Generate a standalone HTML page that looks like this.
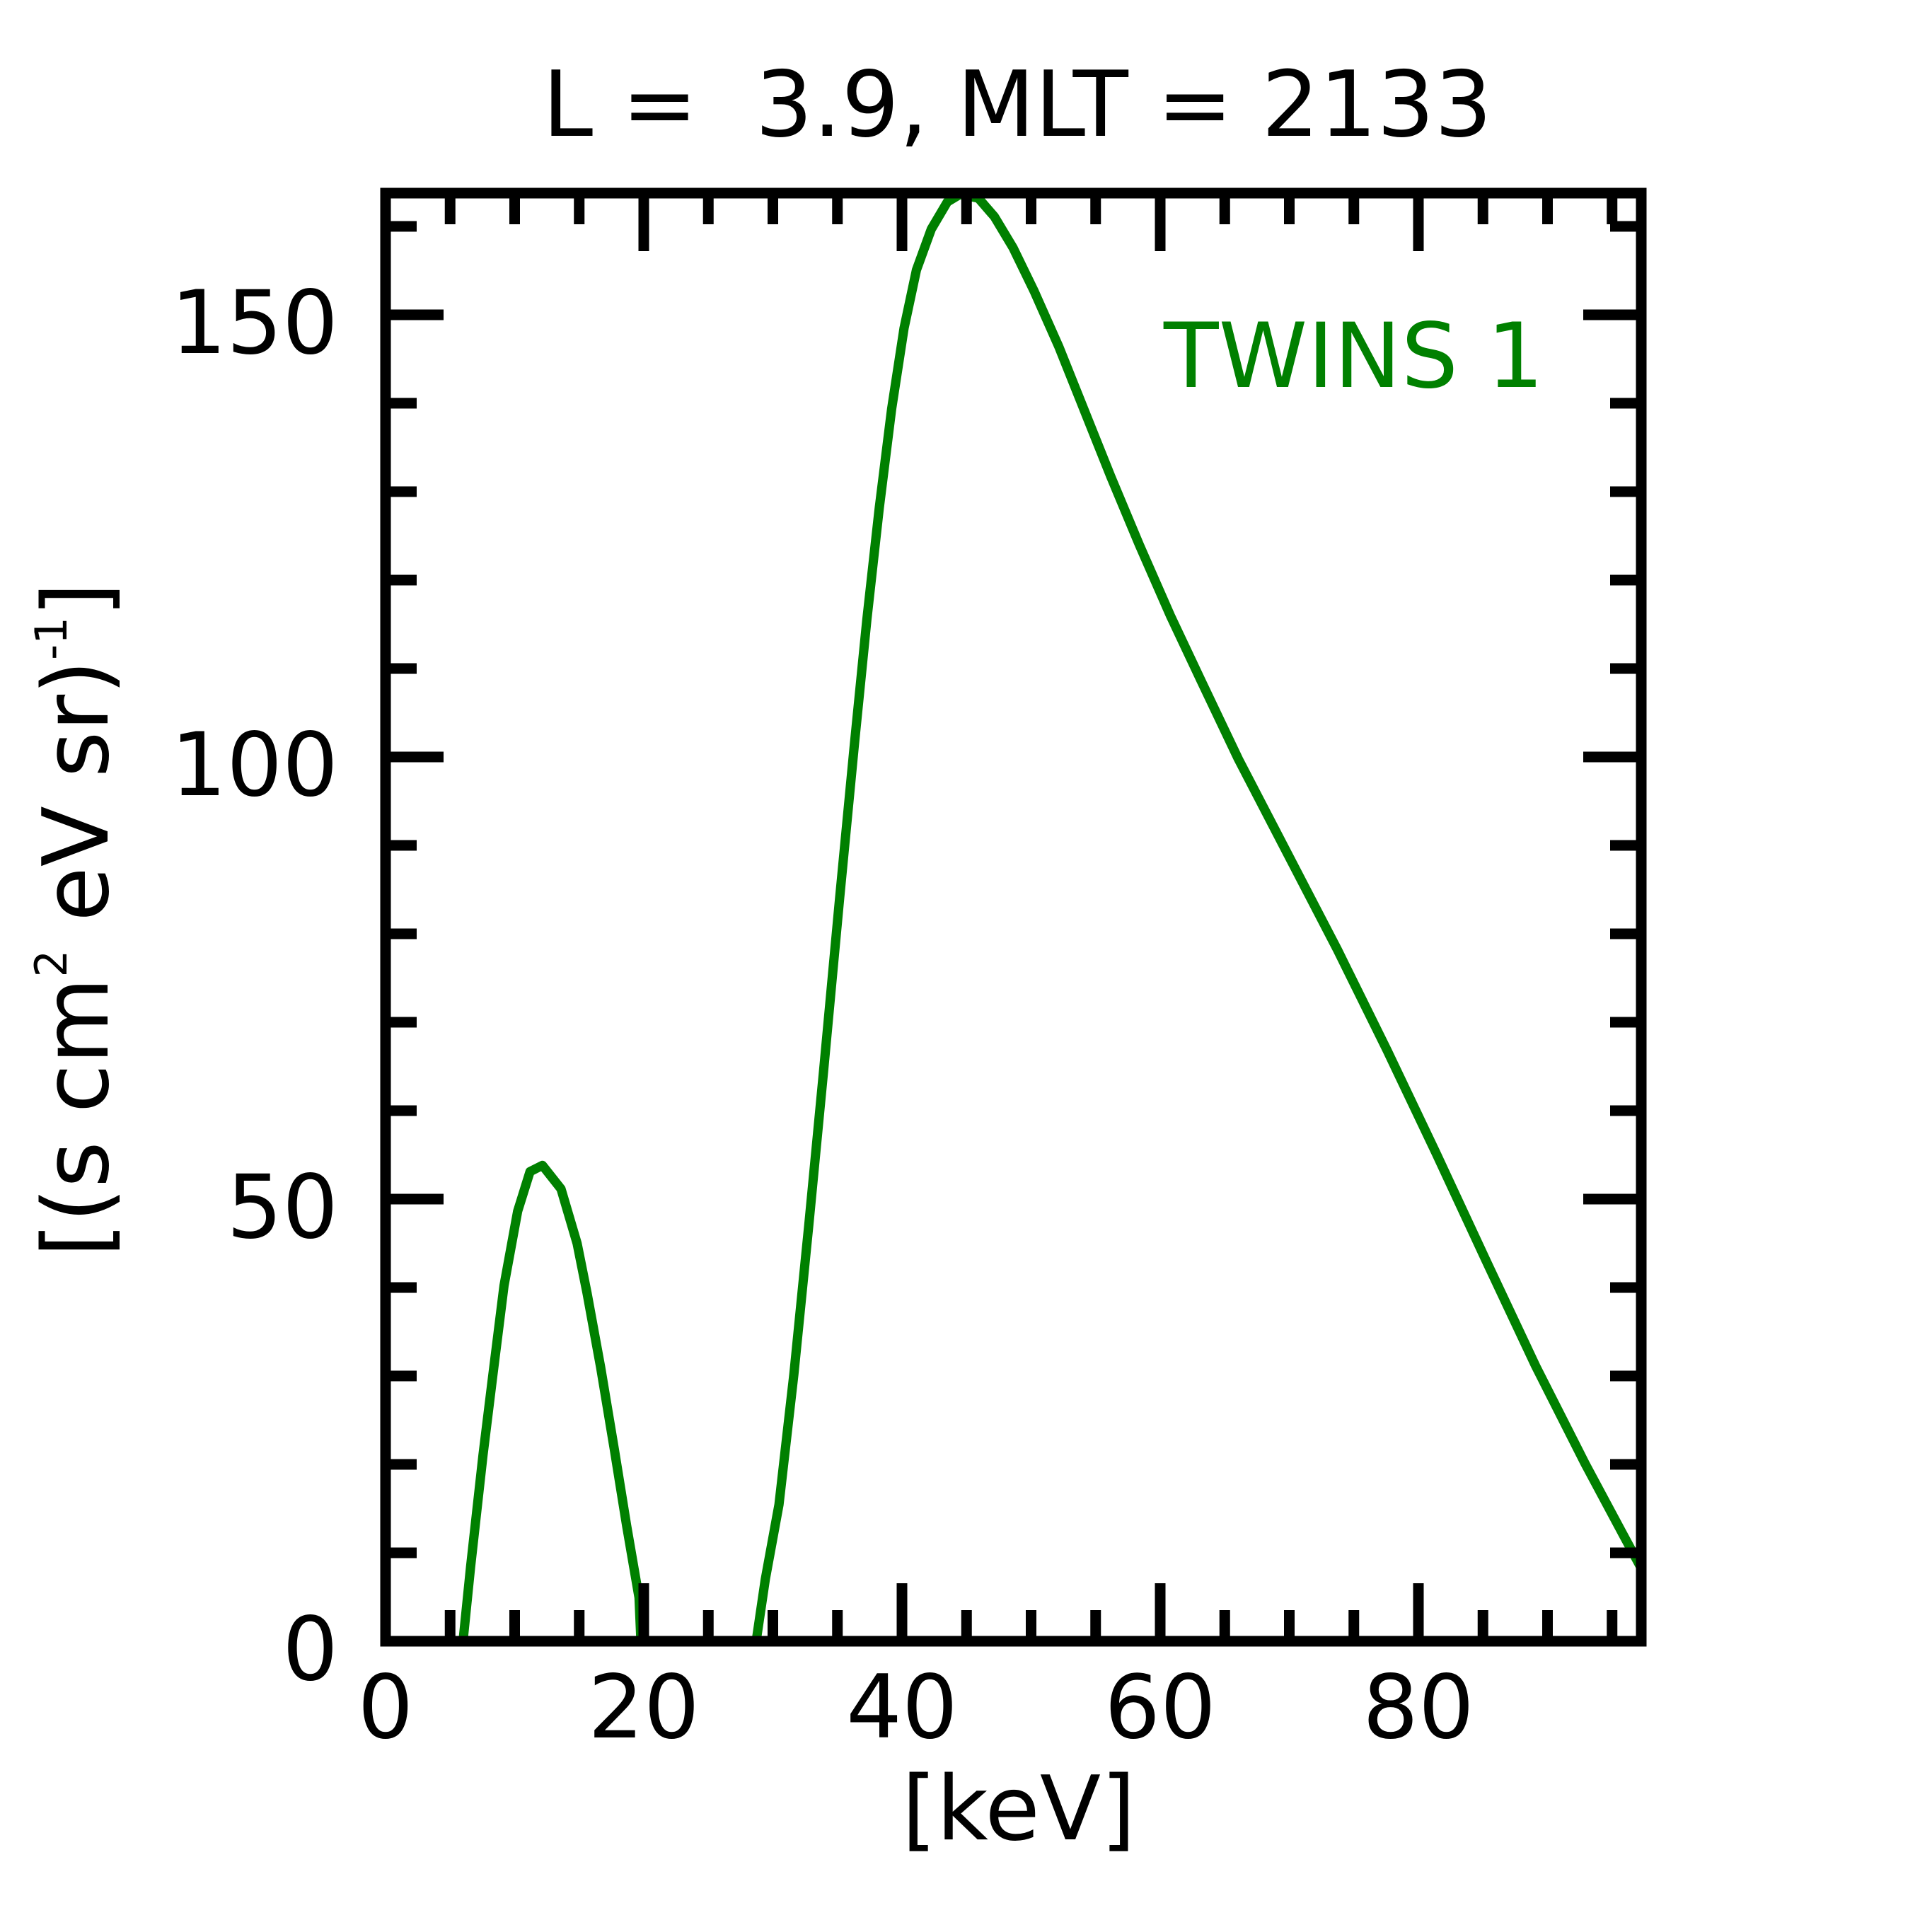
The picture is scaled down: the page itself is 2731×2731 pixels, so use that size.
<!DOCTYPE html>
<html><head><meta charset="utf-8"><style>html,body{margin:0;padding:0;background:#fff}svg{display:block}</style></head>
<body>
<svg width="2731" height="2731" viewBox="0 0 2731 2731" xmlns="http://www.w3.org/2000/svg" font-family="'DejaVu Sans','Liberation Sans',sans-serif">
<rect width="2731" height="2731" fill="#fff"/>
<defs><clipPath id="c"><rect x="545" y="273" width="1775" height="2047"/></clipPath></defs>
<g clip-path="url(#c)">
<g transform="scale(1.7506)" fill="none" stroke="#008000" stroke-width="7.5" stroke-linejoin="round">
<polyline points="373,1334 380,1265 390,1175 398,1110 407,1038 418,978 428,946 438,941 453,960 466,1004 474,1044 485,1104 496,1170 506,1232 516,1290 518,1336"/>
<polyline points="609,1336 618,1275 629,1215 641,1110 653,990 665,865 678,725 690,600 700,500 710,410 720,330 730,265 740,218 752,185 765,163 775,157 790,160 803,175 818,200 835,235 855,280 875,330 897,385 920,440 945,497 970,550 1000,613 1040,690 1080,767 1120,848 1160,932 1200,1018 1240,1103 1280,1182 1310,1238 1330,1275 1340,1292"/>
</g>
</g>
<g stroke="#000" stroke-width="15">
<path d="M910,2320V2238M1275,2320V2238M1640,2320V2238M2005,2320V2238M910,273V355M1275,273V355M1640,273V355M2005,273V355"/>
<path d="M636.25,2320V2276M727.5,2320V2276M818.75,2320V2276M1001.25,2320V2276M1092.5,2320V2276M1183.75,2320V2276M1366.25,2320V2276M1457.5,2320V2276M1548.75,2320V2276M1731.25,2320V2276M1822.5,2320V2276M1913.75,2320V2276M2096.25,2320V2276M2187.5,2320V2276M2278.75,2320V2276
M636.25,273V317M727.5,273V317M818.75,273V317M1001.25,273V317M1092.5,273V317M1183.75,273V317M1366.25,273V317M1457.5,273V317M1548.75,273V317M1731.25,273V317M1822.5,273V317M1913.75,273V317M2096.25,273V317M2187.5,273V317M2278.75,273V317"/>
<path d="M545,1695H627M545,1070H627M545,445H627M2320,1695H2238M2320,1070H2238M2320,445H2238"/>
<path d="M545,2195H589M545,2070H589M545,1945H589M545,1820H589M545,1570H589M545,1445H589M545,1320H589M545,1195H589M545,945H589M545,820H589M545,695H589M545,570H589M545,320H589
M2320,2195H2276M2320,2070H2276M2320,1945H2276M2320,1820H2276M2320,1570H2276M2320,1445H2276M2320,1320H2276M2320,1195H2276M2320,945H2276M2320,820H2276M2320,695H2276M2320,570H2276M2320,320H2276"/>
</g>
<rect x="545" y="273" width="1775" height="2047" fill="none" stroke="#000" stroke-width="15"/>
<g font-size="124" fill="#000">
<g text-anchor="middle">
<text x="545" y="2456">0</text>
<text x="910" y="2456">20</text>
<text x="1275" y="2456">40</text>
<text x="1640" y="2456">60</text>
<text x="2005" y="2456">80</text>
</g>
<g text-anchor="end">
<text x="478" y="2374">0</text>
<text x="478" y="1749">50</text>
<text x="478" y="1124">100</text>
<text x="478" y="499">150</text>
</g>
<text x="1438" y="192" text-anchor="middle" font-size="128" xml:space="preserve">L =  3.9, MLT = 2133</text>
<text x="1440" y="2600" text-anchor="middle" font-size="126">[keV]</text>
<text transform="translate(152,1300) rotate(-90)" text-anchor="middle" font-size="128" textLength="954" lengthAdjust="spacingAndGlyphs">[(s cm<tspan font-size="62" dy="-58">2</tspan><tspan dy="58"> eV sr)</tspan><tspan font-size="62" dy="-58">-1</tspan><tspan dy="58">]</tspan></text>
<text x="1645" y="547" fill="#008000" font-size="127">TWINS 1</text>
</g>
</svg>
</body></html>
